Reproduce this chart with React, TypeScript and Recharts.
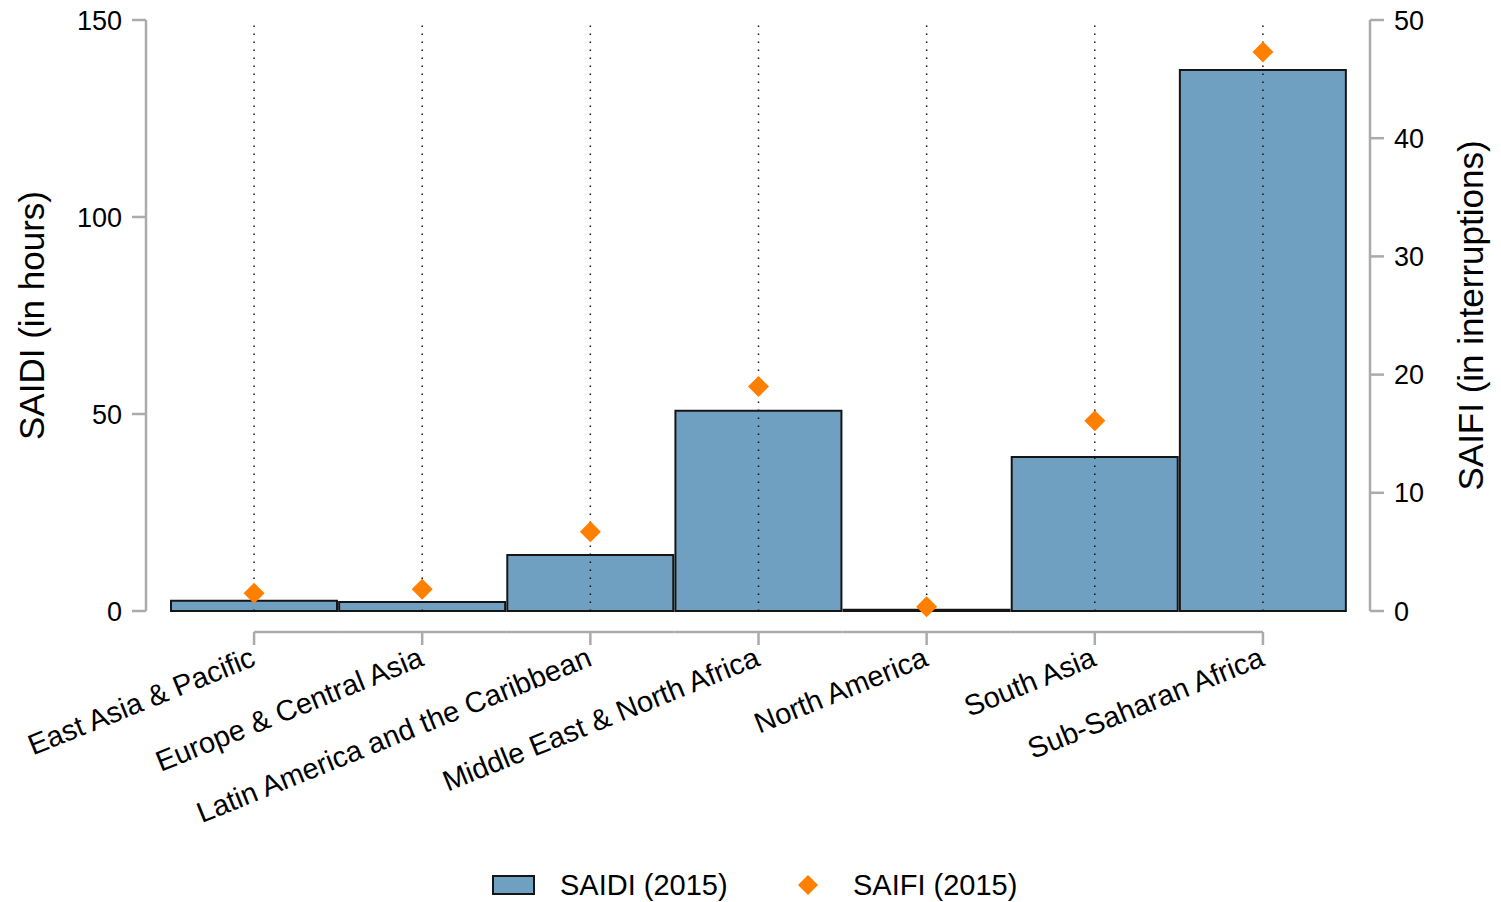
import React from 'react';
import { ComposedChart, Bar, Scatter, XAxis, YAxis, ReferenceLine } from 'recharts';

const categories = [
  'East Asia & Pacific',
  'Europe & Central Asia',
  'Latin America and the Caribbean',
  'Middle East & North Africa',
  'North America',
  'South Asia',
  'Sub-Saharan Africa',
];
const saidi = [2.6, 2.3, 14.2, 50.8, 0.3, 39.1, 137.3];
const saifi = [1.5, 1.84, 6.7, 19.0, 0.36, 16.1, 47.3];
const leftTicks = [0, 50, 100, 150];
const rightTicks = [0, 10, 20, 30, 40, 50];

const data = categories.map((c, i) => ({ region: c, saidi: saidi[i], saifi: saifi[i] }));

const W = 1501;
const H = 902;
const LEFT_AXIS_W = 146;
const RIGHT_AXIS_W = 131;
const TOP = 20;
const XAXIS_H = 291;
const PAD_L = 24;
const PAD_R = 23;
const PLOT_W = W - LEFT_AXIS_W - RIGHT_AXIS_W;
const STEP = (PLOT_W - PAD_L - PAD_R) / categories.length;

const FONT = '"Liberation Sans", Arial, Helvetica, sans-serif';
const AXIS_COLOR = '#ababab';
const BAR_FILL = '#6f9fc1';
const BAR_STROKE = '#151515';
const DIAMOND = '#ff7f00';

const XTick = (props: any) => {
  const { x, y, payload, index, visibleTicksCount } = props;
  const half = STEP / 2;
  const lineY = y + 21;
  const x1 = index === 0 ? x : x - half;
  const x2 = index === visibleTicksCount - 1 ? x : x + half;
  const tx = x + 3;
  const ty = y + 54;
  return (
    <g>
      <line x1={x1} x2={x2} y1={lineY} y2={lineY} stroke={AXIS_COLOR} strokeWidth={2.5} />
      <line x1={x} x2={x} y1={lineY} y2={lineY + 13} stroke={AXIS_COLOR} strokeWidth={2.5} />
      <text
        x={tx}
        y={ty}
        transform={`rotate(-22 ${tx} ${ty})`}
        textAnchor="end"
        fontSize={29}
        fontFamily={FONT}
        fill="#000"
      >
        {payload.value}
      </text>
    </g>
  );
};

const diamondShape = (props: any) => {
  const { cx, cy } = props;
  const r = 10.5;
  return (
    <polygon
      points={`${cx},${cy - r} ${cx + r},${cy} ${cx},${cy + r} ${cx - r},${cy}`}
      fill={DIAMOND}
    />
  );
};

const titleRenderer = (text: string, cxFn: (vb: any) => number) => (props: any) => {
  const vb = props.viewBox || {};
  const cx = cxFn(vb);
  const cy = vb.y + vb.height / 2;
  return (
    <text
      x={cx}
      y={cy}
      transform={`rotate(-90 ${cx} ${cy})`}
      textAnchor="middle"
      dominantBaseline="central"
      fontSize={35}
      fontFamily={FONT}
      fill="#000"
    >
      {text}
    </text>
  );
};

export default function App() {
  return (
    <div style={{ position: 'absolute', left: 0, top: 0, width: W, height: H, background: '#fff', fontFamily: FONT }}>
      <ComposedChart
        width={W}
        height={H}
        data={data}
        margin={{ top: TOP, right: 0, bottom: 0, left: 0 }}
        barCategoryGap={1}
      >
        <XAxis
          dataKey="region"
          type="category"
          height={XAXIS_H}
          padding={{ left: PAD_L, right: PAD_R }}
          axisLine={false}
          tickLine={false}
          tickSize={0}
          tickMargin={0}
          interval={0}
          tick={<XTick />}
        />
        <YAxis
          yAxisId="left"
          orientation="left"
          width={LEFT_AXIS_W}
          domain={[0, 150]}
          ticks={leftTicks}
          interval={0}
          axisLine={{ stroke: AXIS_COLOR, strokeWidth: 2.5 }}
          tickLine={{ stroke: AXIS_COLOR, strokeWidth: 2.5 }}
          tickSize={14}
          tickMargin={10}
          tick={{ fontSize: 27, fill: '#000', fontFamily: FONT }}
          label={titleRenderer('SAIDI (in hours)', () => 31)}
        />
        <YAxis
          yAxisId="right"
          orientation="right"
          width={RIGHT_AXIS_W}
          domain={[0, 50]}
          ticks={rightTicks}
          interval={0}
          axisLine={{ stroke: AXIS_COLOR, strokeWidth: 2.5 }}
          tickLine={{ stroke: AXIS_COLOR, strokeWidth: 2.5 }}
          tickSize={14}
          tickMargin={10}
          tick={{ fontSize: 27, fill: '#000', fontFamily: FONT }}
          label={titleRenderer('SAIFI (in interruptions)', (vb: any) => vb.x + 100)}
        />
        <Bar
          yAxisId="left"
          dataKey="saidi"
          fill={BAR_FILL}
          stroke={BAR_STROKE}
          strokeWidth={2}
          isAnimationActive={false}
        />
        {categories.map((c) => (
          <ReferenceLine
            key={c}
            yAxisId="left"
            segment={[{ x: c, y: 0 }, { x: c, y: 149.5 }]}
            stroke="#111"
            strokeWidth={1.5}
            strokeDasharray="1.5 6.5"
          />
        ))}
        <Scatter
          yAxisId="right"
          dataKey="saifi"
          shape={diamondShape}
          isAnimationActive={false}
        />
      </ComposedChart>
      <div style={{ position: 'absolute', left: 492, top: 875, width: 43, height: 20, boxSizing: 'border-box', border: `2px solid ${BAR_STROKE}`, background: BAR_FILL }} />
      <div style={{ position: 'absolute', left: 560, top: 868, fontSize: 29, lineHeight: '34px', color: '#000', whiteSpace: 'nowrap' }}>SAIDI (2015)</div>
      <svg style={{ position: 'absolute', left: 796, top: 873 }} width={24} height={24}>
        <polygon points="12,2 22,12 12,22 2,12" fill={DIAMOND} />
      </svg>
      <div style={{ position: 'absolute', left: 853, top: 868, fontSize: 29, lineHeight: '34px', color: '#000', whiteSpace: 'nowrap' }}>SAIFI (2015)</div>
    </div>
  );
}
